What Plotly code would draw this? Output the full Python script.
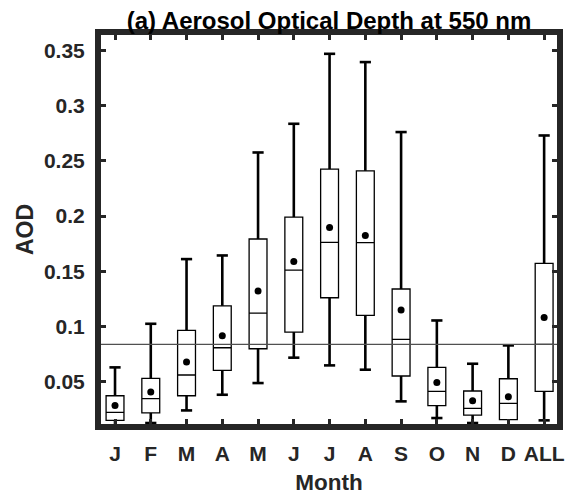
import plotly.graph_objects as go

months = ["J", "F", "M", "A", "M", "J", "J", "A", "S", "O", "N", "D", "ALL"]
positions = list(range(1, 14))

q1 = [0.0149, 0.0216, 0.0372, 0.0601, 0.0798, 0.0949, 0.1260, 0.1100, 0.0551, 0.0282, 0.0197, 0.0155, 0.0411]
median = [0.0221, 0.0345, 0.0560, 0.0807, 0.1121, 0.1511, 0.1761, 0.1760, 0.0882, 0.0411, 0.0257, 0.0302, 0.0837]
q3 = [0.0372, 0.0529, 0.0964, 0.1187, 0.1792, 0.1991, 0.2426, 0.2410, 0.1339, 0.0629, 0.0415, 0.0526, 0.1571]
lower = [0.0089, 0.0125, 0.0239, 0.0381, 0.0487, 0.0717, 0.0647, 0.0608, 0.0321, 0.0170, 0.0125, 0.0094, 0.0149]
upper = [0.0629, 0.1024, 0.1610, 0.1643, 0.2576, 0.2836, 0.3470, 0.3395, 0.2761, 0.1054, 0.0662, 0.0828, 0.2730]
mean = [0.0284, 0.0406, 0.0678, 0.0916, 0.1321, 0.1589, 0.1897, 0.1824, 0.1148, 0.0493, 0.0327, 0.0363, 0.1082]
overall_median = 0.0837

ytick_vals = [0.05, 0.1, 0.15, 0.2, 0.25, 0.3, 0.35]
ytick_text = ["0.05", "0.1", "0.15", "0.2", "0.25", "0.3", "0.35"]

FONT = "Liberation Sans"
AX = "#262626"

fig = go.Figure()

# whisker stems
wx, wy = [], []
for p, a, b, c, d in zip(positions, lower, q1, q3, upper):
    wx += [p, p, None, p, p, None]
    wy += [a, b, None, c, d, None]
fig.add_trace(go.Scatter(x=wx, y=wy, mode="lines", line=dict(color="black", width=2.6),
                         hoverinfo="skip", showlegend=False))
# whisker caps
fig.add_trace(go.Scatter(x=positions + positions, y=upper + lower, mode="markers",
                         marker=dict(symbol="line-ew", size=8, line=dict(color="black", width=2.6)),
                         hoverinfo="skip", showlegend=False))
# boxes
fig.add_trace(go.Box(x=positions, q1=q1, median=median, q3=q3, lowerfence=q1, upperfence=q3,
                     width=0.5, fillcolor="white", line=dict(color="black", width=1.3),
                     whiskerwidth=0, showlegend=False))
# means
fig.add_trace(go.Scatter(x=positions, y=mean, mode="markers",
                         marker=dict(color="black", size=7), showlegend=False))

fig.add_shape(type="line", xref="paper", yref="y", x0=0, x1=1, y0=overall_median, y1=overall_median,
              line=dict(color="#505050", width=1.4), layer="above")

fig.update_layout(
    width=568, height=498,
    margin=dict(l=101, r=11, t=35, b=74, autoexpand=False),
    paper_bgcolor="white", plot_bgcolor="white",
    title=dict(text="<b>(a) Aerosol Optical Depth at 550 nm</b>", x=329 / 568, xanchor="center",
               y=1 - 20.5 / 498, yanchor="middle", yref="container",
               font=dict(family=FONT, size=24, color="black")),
    font=dict(family=FONT, color=AX),
    xaxis=dict(range=[0.608, 13.36], tickvals=positions, ticktext=[f"<b>{m}</b>" for m in months],
               automargin=False,
               showgrid=False, zeroline=False, showline=True, linewidth=6, linecolor=AX, mirror="ticks",
               ticks="inside", ticklen=5, tickwidth=3, tickcolor=AX, ticklabelstandoff=6,
               tickfont=dict(family=FONT, size=21, color=AX),
               title=dict(text="<b>Month</b>", font=dict(family=FONT, size=22.5, color=AX), standoff=12)),
    yaxis=dict(range=[0.0116, 0.36404], tickvals=ytick_vals, ticktext=[f"<b>{t}</b>" for t in ytick_text],
               automargin=False,
               showgrid=False, zeroline=False, showline=True, linewidth=6, linecolor=AX, mirror="ticks",
               ticks="inside", ticklen=5, tickwidth=3, tickcolor=AX, ticklabelstandoff=6,
               tickfont=dict(family=FONT, size=21, color=AX),
               title=dict(text="<b>AOD</b>", font=dict(family=FONT, size=23, color=AX), standoff=6)),
)

fig.write_html("out.html", config={"displayModeBar": False},
               post_script="document.documentElement.style.margin='0';document.body.style.margin='0';"
                           "document.body.style.overflow='hidden';")
